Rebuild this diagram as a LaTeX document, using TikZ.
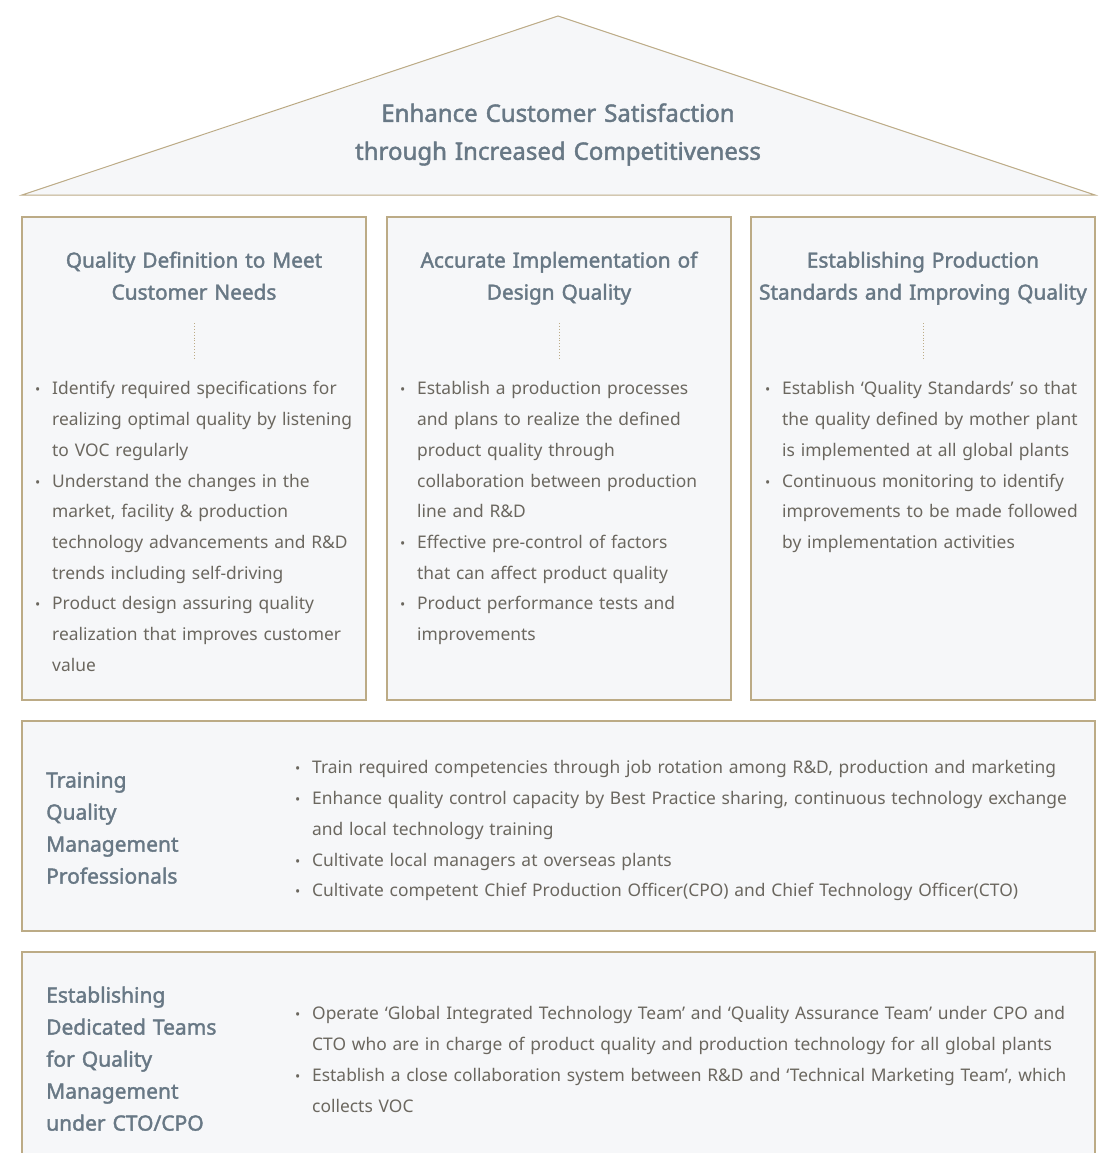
\documentclass[tikz,border=0pt]{standalone}
\usepackage{fontspec}
\setmainfont{Noto Sans}
\newfontfamily\headfont{Noto Sans}[FakeBold=1.8]
\usetikzlibrary{positioning}

\definecolor{roofline}{HTML}{BCAB86}
\definecolor{panelfill}{HTML}{F6F7F9}
\definecolor{headgray}{HTML}{687885}
\definecolor{bodygray}{HTML}{6B675F}

% one bullet point, later lines hang under the text
\newcommand{\bitem}[1]{\par\hangindent=17pt\hangafter=1\noindent\strut\makebox[17pt][l]{\fontsize{14}{14}\selectfont •}#1\par}

\begin{document}
\begin{tikzpicture}[x=1pt,y=-1pt]
	\tikzstyle{panel}=[fill=panelfill,draw=roofline,line width=1.2pt]
	\tikzstyle{titletext}=[anchor=north,inner sep=0pt,text width=700pt,align=center,text=headgray,font=\headfont\fontsize{24}{38}\selectfont]
	\tikzstyle{colhead}=[anchor=north,inner sep=0pt,text width=340pt,align=center,text=headgray,font=\headfont\fontsize{20.8}{32}\selectfont]
	\tikzstyle{sidehead}=[anchor=north west,inner sep=0pt,text width=240pt,align=left,text=headgray,font=\headfont\fontsize{21}{32}\selectfont]
	\tikzstyle{bullets}=[anchor=north west,inner sep=0pt,text width=1000pt,align=left,text=bodygray,font=\fontsize{17.4}{30.7}\selectfont]
	\useasboundingbox (0,0) rectangle (1101,1153);

	% roof
	\filldraw[panel,line width=1pt] (22,195) -- (558,16) -- (1095,195) -- cycle;
	\node[titletext] (roof) at (558,95) {\strut Enhance Customer Satisfaction\\through Increased Competitiveness};

	% three pillars
	\filldraw[panel] (22,217) rectangle (366,700);
	\filldraw[panel] (387,217) rectangle (731,700);
	\filldraw[panel] (751,217) rectangle (1095,700);

	\node[colhead] (defhead) at (194,245) {\strut Quality Definition to Meet\\Customer Needs};
	\node[colhead] (designhead) at (559,245) {\strut Accurate Implementation of\\Design Quality};
	\node[colhead] (prodhead) at (923,245) {\strut Establishing Production\\Standards and Improving Quality};

	\foreach \cx in {194,559,923}
		\draw[roofline,line width=0.9pt,dotted] (\cx,323) -- (\cx,358);

	\node[bullets] (deflist) at (35,364) {%
		\bitem{Identify required specifications for\newline realizing optimal quality by listening\newline to VOC regularly}
		\bitem{Understand the changes in the\newline market, facility \& production\newline technology advancements and R\&D\newline trends including self-driving}
		\bitem{Product design assuring quality\newline realization that improves customer\newline value}};
	\node[bullets] (designlist) at (400,364) {%
		\bitem{Establish a production processes\newline and plans to realize the defined\newline product quality through\newline collaboration between production\newline line and R\&D}
		\bitem{Effective pre-control of factors\newline that can affect product quality}
		\bitem{Product performance tests and\newline improvements}};
	\node[bullets] (prodlist) at (765,364) {%
		\bitem{Establish ‘Quality Standards’ so that\newline the quality defined by mother plant\newline is implemented at all global plants}
		\bitem{Continuous monitoring to identify\newline improvements to be made followed\newline by implementation activities}};

	% training floor
	\filldraw[panel] (22,721) rectangle (1095,931);
	\node[sidehead] (trainhead) at (46,765) {\strut Training\\Quality\\Management\\Professionals};
	\node[bullets] (trainlist) at (295,743) {%
		\bitem{Train required competencies through job rotation among R\&D, production and marketing}
		\bitem{Enhance quality control capacity by Best Practice sharing, continuous technology exchange\newline and local technology training}
		\bitem{Cultivate local managers at overseas plants}
		\bitem{Cultivate competent Chief Production Officer(CPO) and Chief Technology Officer(CTO)}};

	% foundation
	\fill[panelfill] (22,952) rectangle (1095,1153);
	\draw[roofline,line width=1.2pt] (22,1153) -- (22,952) -- (1095,952) -- (1095,1153);
	\node[sidehead] (teamhead) at (46,980) {\strut Establishing\\Dedicated Teams\\for Quality\\Management\\under CTO/CPO};
	\node[bullets] (teamlist) at (295,989) {%
		\bitem{Operate ‘Global Integrated Technology Team’ and ‘Quality Assurance Team’ under CPO and\newline CTO who are in charge of product quality and production technology for all global plants}
		\bitem{Establish a close collaboration system between R\&D and ‘Technical Marketing Team’, which\newline collects VOC}};
\end{tikzpicture}
\end{document}
